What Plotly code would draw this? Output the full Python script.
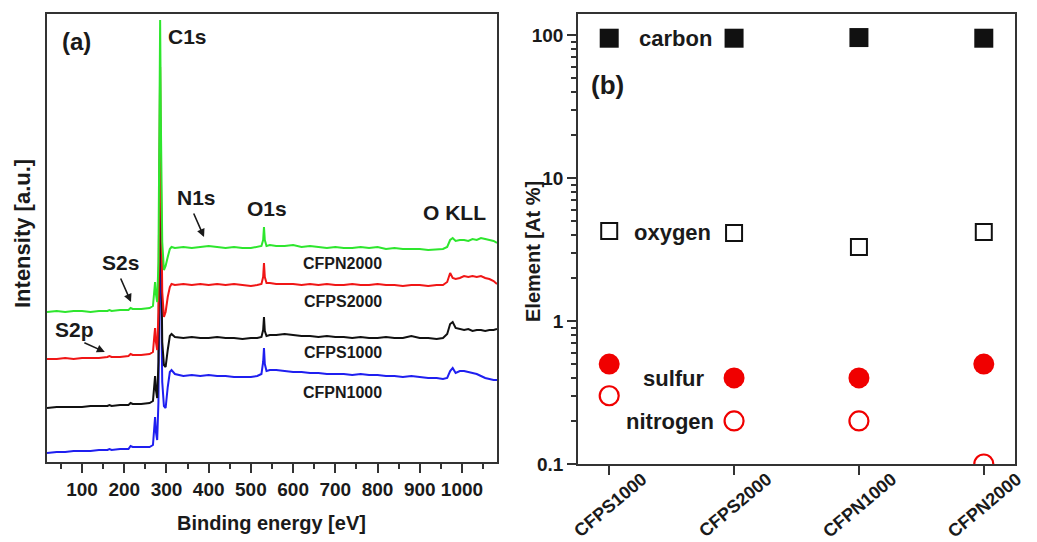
import plotly.graph_objects as go

# ---------------- Panel (a): XPS survey spectra (intensity in arbitrary units) ----------------
energy = [17, 40, 60, 80, 100, 120, 140, 160, 165, 170, 190, 210, 215, 220, 240, 260, 268, 271, 273,
          275, 278, 281, 283, 285, 287, 290, 294, 298, 303, 308, 312, 320, 340, 360, 380, 400, 420,
          440, 460, 480, 500, 515, 525, 529, 531, 533, 537, 545, 560, 580, 600, 620, 640, 660, 680,
          700, 720, 740, 760, 780, 800, 820, 840, 860, 880, 900, 920, 940, 955, 965, 972, 978, 985,
          995, 1005, 1015, 1025, 1035, 1045, 1055, 1065, 1075, 1083]

cfpn2000 = [150, 151, 150, 151, 151, 150, 151, 151, 152, 151, 152, 152, 154, 153, 153, 154, 156, 170, 180,
            168, 160, 200, 330, 442, 330, 220, 192, 196, 205, 213, 215, 214, 215, 214, 215, 216, 215,
            214, 215, 214, 214, 215, 216, 222, 235, 222, 216, 217, 216, 216, 217, 215, 216, 215, 214,
            215, 214, 214, 215, 214, 215, 213, 214, 213, 213, 213, 212, 213, 213, 215, 222, 224, 221,
            222, 222, 221, 223, 222, 224, 223, 222, 221, 219]

cfps2000 = [103, 103, 104, 103, 104, 104, 104, 105, 106, 105, 105, 106, 108, 107, 107, 108, 110, 125, 134,
            120, 112, 150, 280, 395, 280, 170, 145, 150, 165, 175, 178, 177, 178, 177, 178, 177, 178,
            177, 178, 177, 176, 177, 178, 185, 199, 185, 179, 179, 178, 178, 178, 177, 178, 177, 178,
            177, 177, 178, 177, 177, 178, 177, 177, 176, 177, 177, 176, 177, 177, 180, 189, 184, 183,
            184, 186, 185, 186, 185, 186, 184, 183, 181, 178]

cfps1000 = [54, 55, 55, 55, 55, 56, 56, 56, 57, 56, 57, 57, 59, 58, 58, 59, 61, 78, 86,
            72, 64, 100, 230, 345, 230, 120, 97, 95, 112, 126, 128, 125, 124, 125, 124, 124, 125,
            124, 124, 123, 124, 124, 125, 132, 145, 131, 126, 127, 127, 128, 127, 126, 126, 125, 126,
            125, 125, 124, 125, 124, 124, 125, 124, 124, 126, 124, 124, 123, 124, 128, 138, 140, 134,
            133, 132, 133, 131, 132, 132, 131, 132, 132, 133]

cfpn1000 = [9, 10, 10, 11, 11, 11, 12, 12, 13, 12, 13, 13, 16, 15, 15, 15, 17, 38, 45,
            30, 22, 60, 180, 300, 180, 80, 56, 54, 75, 90, 92, 88, 86, 87, 86, 87, 86,
            86, 85, 85, 85, 86, 88, 100, 114, 98, 91, 92, 92, 91, 90, 90, 89, 89, 88,
            88, 88, 87, 88, 87, 87, 86, 86, 85, 86, 85, 84, 84, 83, 84, 91, 94, 89,
            91, 91, 90, 89, 88, 86, 84, 83, 82, 82]

spectra_names = ["CFPN1000", "CFPS1000", "CFPS2000", "CFPN2000"]
spectra_values = [cfpn1000, cfps1000, cfps2000, cfpn2000]
spectra_colors = ["#1f1ff0", "#111111", "#f01616", "#2ee62e"]

# ---------------- Panel (b): elemental composition ----------------
samples = ["CFPS1000", "CFPS2000", "CFPN1000", "CFPN2000"]
carbon = [95, 95, 96, 95]
oxygen = [4.26, 4.12, 3.29, 4.19]
sulfur = [0.50, 0.40, 0.40, 0.50]
nitrogen = [0.30, 0.20, 0.20, 0.10]

FONT = "Liberation Sans"
W, H = 1037, 542
fig = go.Figure()

for name, vals, col in zip(spectra_names, spectra_values, spectra_colors):
    fig.add_trace(go.Scatter(x=energy, y=vals, mode="lines", name=name,
                             line=dict(color=col, width=2), xaxis="x", yaxis="y",
                             showlegend=False))

fig.add_trace(go.Scatter(x=samples, y=carbon, mode="markers", name="carbon", xaxis="x2", yaxis="y2",
                         marker=dict(symbol="square", size=19, color="#111111", line=dict(width=0)),
                         showlegend=False))
fig.add_trace(go.Scatter(x=samples, y=oxygen, mode="markers", name="oxygen", xaxis="x2", yaxis="y2",
                         marker=dict(symbol="square-open", size=16, color="#111111", line=dict(width=2)),
                         showlegend=False))
fig.add_trace(go.Scatter(x=samples, y=sulfur, mode="markers", name="sulfur", xaxis="x2", yaxis="y2",
                         marker=dict(symbol="circle", size=21, color="#f00000", line=dict(width=0)),
                         showlegend=False))
fig.add_trace(go.Scatter(x=samples, y=nitrogen, mode="markers", name="nitrogen", xaxis="x2", yaxis="y2",
                         marker=dict(symbol="circle-open", size=19, color="#f00000", line=dict(width=2.2)),
                         showlegend=False))

frame = dict(showline=True, linecolor="#333333", linewidth=1.6, mirror=True, showgrid=False, zeroline=False)
tickf = dict(family=FONT, size=19, color="#1a1a1a", weight="bold")

ydom = [1 - 462 / H, 1 - 14 / H]
fig.update_layout(
    width=W, height=H,
    margin=dict(l=0, r=0, t=0, b=0, autoexpand=False),
    paper_bgcolor="white", plot_bgcolor="white",
    font=dict(family=FONT, color="#1a1a1a"),
    xaxis=dict(domain=[47 / W, 497 / W], range=[17, 1083], tickvals=[100, 200, 300, 400, 500, 600, 700, 800, 900, 1000],
               ticks="outside", ticklen=9, tickwidth=1.5, tickcolor="#333333", tickfont=tickf,
               minor=dict(tickvals=[50, 150, 250, 350, 450, 550, 650, 750, 850, 950, 1050],
                          ticks="outside", ticklen=5, tickwidth=1.5, tickcolor="#333333"),
               **frame),
    yaxis=dict(domain=ydom, range=[0, 448], showticklabels=False, ticks="", **frame),
    xaxis2=dict(domain=[578 / W, 1015 / W], type="category", range=[-0.25, 3.25], anchor="y2",
                ticks="outside", ticklen=9, tickwidth=1.5, tickcolor="#333333",
                tickangle=-40, ticklabelshift=33, ticklabelstandoff=-13,
                tickfont=dict(family=FONT, size=18, color="#1a1a1a", weight="bold"),
                **frame),
    yaxis2=dict(domain=[1 - 464 / H, 1 - 14 / H], type="log", range=[-1, 2.147], anchor="x2",
                tickvals=[0.1, 1, 10, 100], ticktext=["0.1", "1", "10", "100"],
                ticks="outside", ticklen=9, tickwidth=1.5, tickcolor="#333333", tickfont=tickf,
                minor=dict(tickvals=[0.2, 0.3, 0.4, 0.5, 0.6, 0.7, 0.8, 0.9, 2, 3, 4, 5, 6, 7, 8, 9,
                                     20, 30, 40, 50, 60, 70, 80, 90],
                           ticks="outside", ticklen=5, tickwidth=1.5, tickcolor="#333333"),
                **frame),
)

def txt(x, y, s, size, xref="x", yref="y", angle=0, **kw):
    fig.add_annotation(x=x, y=y, text=s, xref=xref, yref=yref, showarrow=False, textangle=angle,
                       xanchor="center", yanchor="middle",
                       font=dict(family=FONT, size=size, color="#1a1a1a", weight="bold"), **kw)

# panel (a) labels
txt(88, 420, "(a)", 24)
txt(351, 425, "C1s", 21)
txt(370, 265, "N1s", 21)
txt(538, 254, "O1s", 21)
txt(983, 250, "O KLL", 21)
txt(192, 200, "S2s", 21)
txt(81, 133, "S2p", 21)
txt(718, 199, "CFPN2000", 16)
txt(718, 161, "CFPS2000", 16)
txt(718, 110, "CFPS1000", 16)
txt(718, 70, "CFPN1000", 16)

def arrow(x0, y0, x1, y1):
    fig.add_annotation(x=x1, y=y1, ax=x0, ay=y0, xref="x", yref="y", axref="x", ayref="y",
                       showarrow=True, arrowhead=2, arrowsize=1, arrowwidth=1.6, arrowcolor="#1a1a1a", text="")

arrow(363, 250, 389, 225)
arrow(190, 185, 216, 160)
arrow(102, 120, 154, 110)

# panel (b) labels
txt(-0.016, 1.65, "(b)", 26, xref="x2", yref="y2")
txt(0.53, 1.978, "carbon", 22, xref="x2", yref="y2")
txt(0.51, 0.622, "oxygen", 22, xref="x2", yref="y2")
txt(0.52, -0.399, "sulfur", 22, xref="x2", yref="y2")
txt(0.49, -0.706, "nitrogen", 22, xref="x2", yref="y2")

# axis titles
txt(23 / W, 1 - 234 / H, "Intensity [a.u.]", 22, xref="paper", yref="paper", angle=-90)
txt(271 / W, 1 - 523 / H, "Binding energy [eV]", 20, xref="paper", yref="paper")
txt(533 / W, 1 - 252 / H, "Element [At %]", 20, xref="paper", yref="paper", angle=-90)

fig.write_html("out.html", config={"displayModeBar": False},
               post_script="document.body.style.margin='0px';document.body.style.overflow='hidden';")
